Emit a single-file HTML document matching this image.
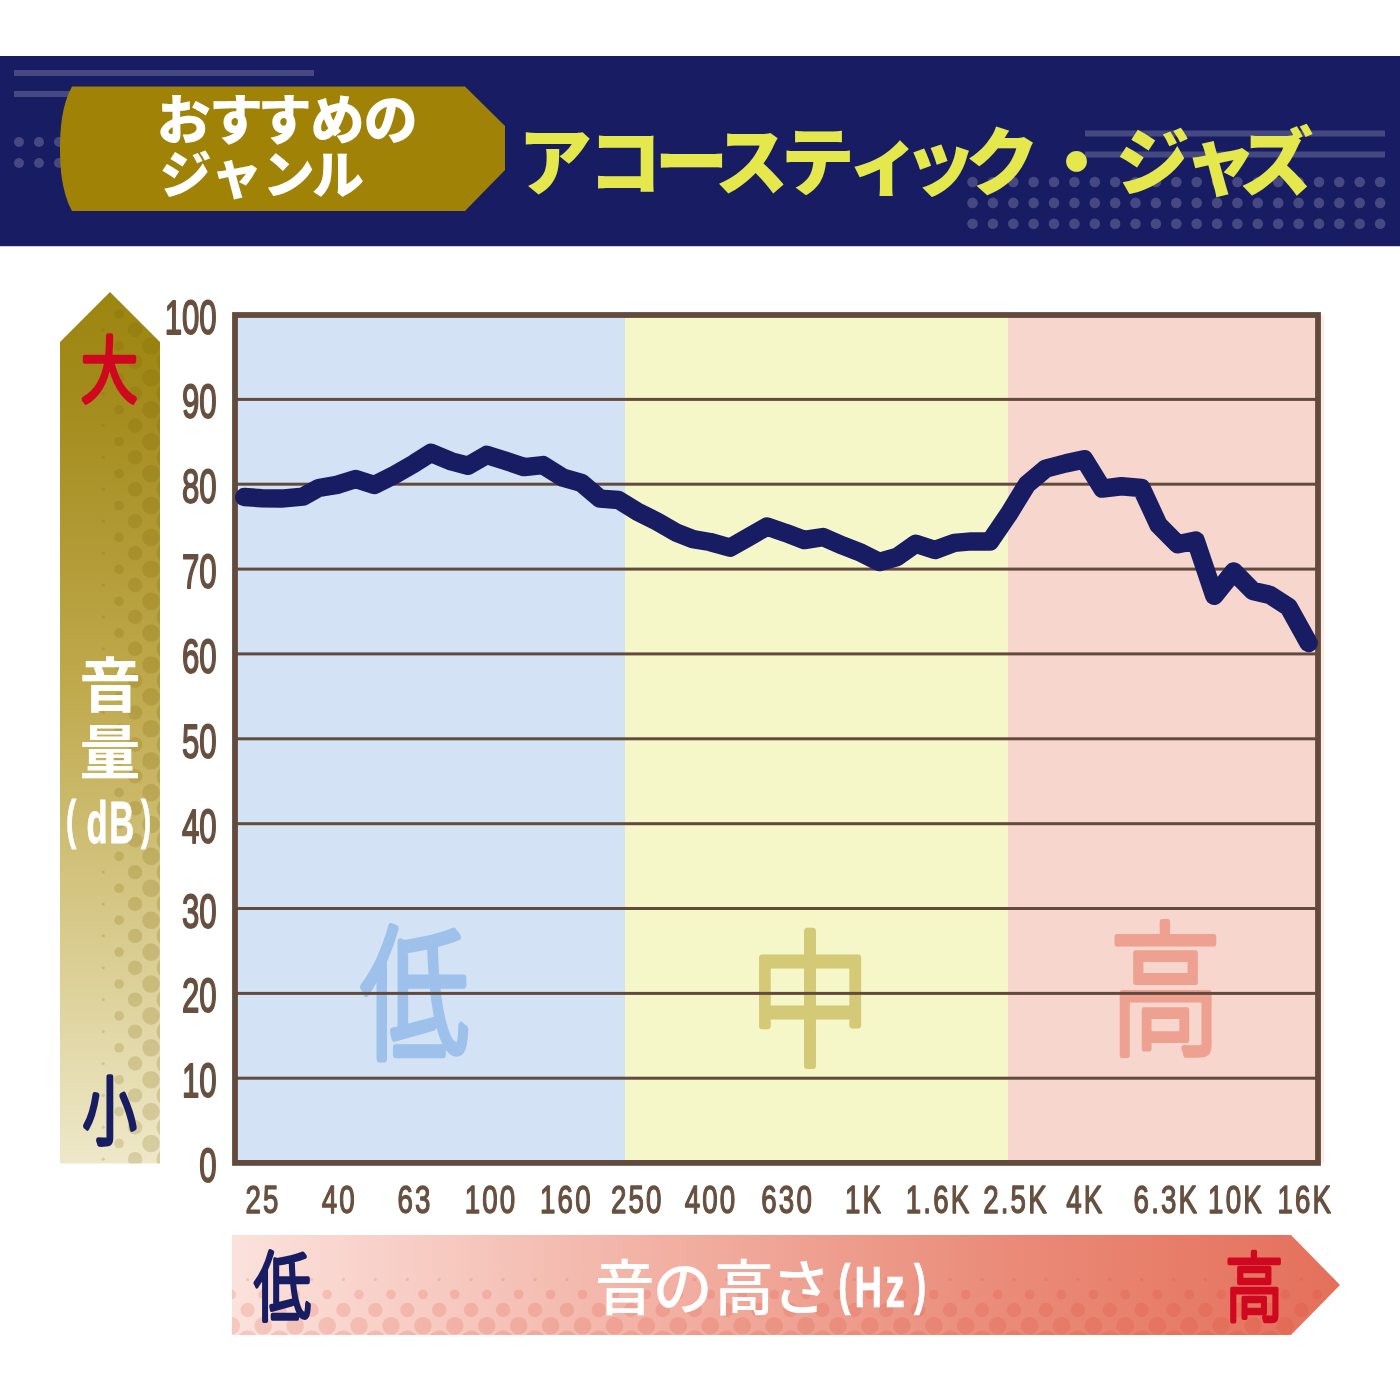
<!DOCTYPE html>
<html lang="ja"><head><meta charset="utf-8"><title>おすすめのジャンル アコースティック・ジャズ</title>
<style>
html,body{margin:0;padding:0;background:#fff;}
svg{display:block;}
text{font-family:"Liberation Sans","Noto Sans CJK JP",sans-serif;}
.jp{font-family:"Liberation Sans","Noto Sans CJK JP",sans-serif;}
</style></head><body>
<svg width="1400" height="1400" viewBox="0 0 1400 1400">
<defs>
<linearGradient id="gv" x1="0" y1="0" x2="0" y2="1">
<stop offset="0" stop-color="#9c8510"/><stop offset="0.12" stop-color="#a38b1c"/><stop offset="0.45" stop-color="#bfa94c"/><stop offset="0.75" stop-color="#d9cc8f"/><stop offset="1" stop-color="#eee8c9"/>
</linearGradient>
<linearGradient id="gh" x1="0" y1="0" x2="1" y2="0">
<stop offset="0" stop-color="#fbe2dc"/><stop offset="0.35" stop-color="#f3b5a9"/><stop offset="0.7" stop-color="#ea8b78"/><stop offset="1" stop-color="#e4705b"/>
</linearGradient>
<clipPath id="cv"><path d="M110,292 L160,342 L160,1163.5 L60,1163.5 L60,342 Z"/></clipPath>
<clipPath id="ch"><path d="M232,1235 L1291,1235 L1340,1285 L1291,1335 L232,1335 Z"/></clipPath>
</defs>
<rect width="1400" height="1400" fill="#fff"/>

<rect x="0" y="56" width="1400" height="190.2" fill="#181c62"/>
<g fill="#fff" fill-opacity="0.2">
<rect x="14" y="70" width="300" height="6"/><rect x="14" y="91" width="300" height="6"/>
<rect x="1085" y="130.5" width="300" height="6"/><rect x="1085" y="151.5" width="300" height="6"/>
<circle cx="19" cy="142" r="5"/>
<circle cx="39" cy="142" r="5"/>
<circle cx="59" cy="142" r="5"/>
<circle cx="79" cy="142" r="5"/>
<circle cx="19" cy="163" r="5"/>
<circle cx="39" cy="163" r="5"/>
<circle cx="59" cy="163" r="5"/>
<circle cx="79" cy="163" r="5"/>
<circle cx="972.5" cy="182" r="5.3"/>
<circle cx="992.9" cy="182" r="5.3"/>
<circle cx="1013.3" cy="182" r="5.3"/>
<circle cx="1033.6" cy="182" r="5.3"/>
<circle cx="1054.0" cy="182" r="5.3"/>
<circle cx="1074.4" cy="182" r="5.3"/>
<circle cx="1094.8" cy="182" r="5.3"/>
<circle cx="1115.2" cy="182" r="5.3"/>
<circle cx="1135.5" cy="182" r="5.3"/>
<circle cx="1155.9" cy="182" r="5.3"/>
<circle cx="1176.3" cy="182" r="5.3"/>
<circle cx="1196.7" cy="182" r="5.3"/>
<circle cx="1217.1" cy="182" r="5.3"/>
<circle cx="1237.4" cy="182" r="5.3"/>
<circle cx="1257.8" cy="182" r="5.3"/>
<circle cx="1278.2" cy="182" r="5.3"/>
<circle cx="1298.6" cy="182" r="5.3"/>
<circle cx="1319.0" cy="182" r="5.3"/>
<circle cx="1339.3" cy="182" r="5.3"/>
<circle cx="1359.7" cy="182" r="5.3"/>
<circle cx="1380.1" cy="182" r="5.3"/>
<circle cx="972.5" cy="202.9" r="5.3"/>
<circle cx="992.9" cy="202.9" r="5.3"/>
<circle cx="1013.3" cy="202.9" r="5.3"/>
<circle cx="1033.6" cy="202.9" r="5.3"/>
<circle cx="1054.0" cy="202.9" r="5.3"/>
<circle cx="1074.4" cy="202.9" r="5.3"/>
<circle cx="1094.8" cy="202.9" r="5.3"/>
<circle cx="1115.2" cy="202.9" r="5.3"/>
<circle cx="1135.5" cy="202.9" r="5.3"/>
<circle cx="1155.9" cy="202.9" r="5.3"/>
<circle cx="1176.3" cy="202.9" r="5.3"/>
<circle cx="1196.7" cy="202.9" r="5.3"/>
<circle cx="1217.1" cy="202.9" r="5.3"/>
<circle cx="1237.4" cy="202.9" r="5.3"/>
<circle cx="1257.8" cy="202.9" r="5.3"/>
<circle cx="1278.2" cy="202.9" r="5.3"/>
<circle cx="1298.6" cy="202.9" r="5.3"/>
<circle cx="1319.0" cy="202.9" r="5.3"/>
<circle cx="1339.3" cy="202.9" r="5.3"/>
<circle cx="1359.7" cy="202.9" r="5.3"/>
<circle cx="1380.1" cy="202.9" r="5.3"/>
<circle cx="972.5" cy="223.8" r="5.3"/>
<circle cx="992.9" cy="223.8" r="5.3"/>
<circle cx="1013.3" cy="223.8" r="5.3"/>
<circle cx="1033.6" cy="223.8" r="5.3"/>
<circle cx="1054.0" cy="223.8" r="5.3"/>
<circle cx="1074.4" cy="223.8" r="5.3"/>
<circle cx="1094.8" cy="223.8" r="5.3"/>
<circle cx="1115.2" cy="223.8" r="5.3"/>
<circle cx="1135.5" cy="223.8" r="5.3"/>
<circle cx="1155.9" cy="223.8" r="5.3"/>
<circle cx="1176.3" cy="223.8" r="5.3"/>
<circle cx="1196.7" cy="223.8" r="5.3"/>
<circle cx="1217.1" cy="223.8" r="5.3"/>
<circle cx="1237.4" cy="223.8" r="5.3"/>
<circle cx="1257.8" cy="223.8" r="5.3"/>
<circle cx="1278.2" cy="223.8" r="5.3"/>
<circle cx="1298.6" cy="223.8" r="5.3"/>
<circle cx="1319.0" cy="223.8" r="5.3"/>
<circle cx="1339.3" cy="223.8" r="5.3"/>
<circle cx="1359.7" cy="223.8" r="5.3"/>
<circle cx="1380.1" cy="223.8" r="5.3"/>
</g>
<path d="M72,86.5 L465,86.5 L505,126 L505,170 L465,211 L72,211 C61.5,192 60,167 60,148.7 C60,130 61.5,105 72,86.5 Z" fill="#a08306"/>
<text class="jp" x="156.8 208.9 257.7 310.5 363.8" y="140.3" font-size="54" font-weight="900" fill="#fff">おすすめの</text>
<text class="jp" x="159.4 210.8 262.8 312" y="193.7" font-size="52" font-weight="900" fill="#fff">ジャンル</text>
<text class="jp" x="518.1 587.9 654.6 714.6 780.8 847.3 902.9 965.3 1039.4 1115.8 1183.6 1239.5" y="189" font-size="74" font-weight="900" fill="#e4e84c">アコースティック・ジャズ</text>
<path d="M110,292 L160,342 L160,1163.5 L60,1163.5 L60,342 Z" fill="url(#gv)"/>
<g clip-path="url(#cv)" fill="#7a6200" fill-opacity="0.19">
<circle cx="103.2" cy="234.1" r="1.6"/>
<circle cx="103.2" cy="266.0" r="1.6"/>
<circle cx="103.2" cy="297.9" r="1.6"/>
<circle cx="103.2" cy="329.8" r="1.6"/>
<circle cx="103.2" cy="361.7" r="1.6"/>
<circle cx="103.2" cy="393.6" r="1.6"/>
<circle cx="103.2" cy="425.5" r="1.6"/>
<circle cx="103.2" cy="457.4" r="1.6"/>
<circle cx="103.2" cy="489.3" r="1.6"/>
<circle cx="103.2" cy="521.2" r="1.6"/>
<circle cx="103.2" cy="553.1" r="1.6"/>
<circle cx="103.2" cy="585.0" r="1.6"/>
<circle cx="103.2" cy="616.9" r="1.6"/>
<circle cx="103.2" cy="648.8" r="1.6"/>
<circle cx="103.2" cy="680.7" r="1.6"/>
<circle cx="103.2" cy="712.6" r="1.6"/>
<circle cx="103.2" cy="744.5" r="1.6"/>
<circle cx="103.2" cy="776.4" r="1.6"/>
<circle cx="103.2" cy="808.3" r="1.6"/>
<circle cx="103.2" cy="840.2" r="1.6"/>
<circle cx="103.2" cy="872.1" r="1.6"/>
<circle cx="103.2" cy="904.0" r="1.6"/>
<circle cx="103.2" cy="935.9" r="1.6"/>
<circle cx="103.2" cy="967.8" r="1.6"/>
<circle cx="103.2" cy="999.7" r="1.6"/>
<circle cx="103.2" cy="1031.6" r="1.6"/>
<circle cx="103.2" cy="1063.5" r="1.6"/>
<circle cx="103.2" cy="1095.4" r="1.6"/>
<circle cx="103.2" cy="1127.3" r="1.6"/>
<circle cx="103.2" cy="1159.2" r="1.6"/>
<circle cx="119.1" cy="250.3" r="4.8"/>
<circle cx="119.1" cy="282.2" r="4.8"/>
<circle cx="119.1" cy="314.1" r="4.8"/>
<circle cx="119.1" cy="346.0" r="4.8"/>
<circle cx="119.1" cy="377.9" r="4.8"/>
<circle cx="119.1" cy="409.8" r="4.8"/>
<circle cx="119.1" cy="441.7" r="4.8"/>
<circle cx="119.1" cy="473.6" r="4.8"/>
<circle cx="119.1" cy="505.5" r="4.8"/>
<circle cx="119.1" cy="537.4" r="4.8"/>
<circle cx="119.1" cy="569.3" r="4.8"/>
<circle cx="119.1" cy="601.2" r="4.8"/>
<circle cx="119.1" cy="633.1" r="4.8"/>
<circle cx="119.1" cy="665.0" r="4.8"/>
<circle cx="119.1" cy="696.9" r="4.8"/>
<circle cx="119.1" cy="728.8" r="4.8"/>
<circle cx="119.1" cy="760.7" r="4.8"/>
<circle cx="119.1" cy="792.6" r="4.8"/>
<circle cx="119.1" cy="824.5" r="4.8"/>
<circle cx="119.1" cy="856.4" r="4.8"/>
<circle cx="119.1" cy="888.3" r="4.8"/>
<circle cx="119.1" cy="920.2" r="4.8"/>
<circle cx="119.1" cy="952.1" r="4.8"/>
<circle cx="119.1" cy="984.0" r="4.8"/>
<circle cx="119.1" cy="1015.9" r="4.8"/>
<circle cx="119.1" cy="1047.8" r="4.8"/>
<circle cx="119.1" cy="1079.7" r="4.8"/>
<circle cx="119.1" cy="1111.6" r="4.8"/>
<circle cx="119.1" cy="1143.5" r="4.8"/>
<circle cx="119.1" cy="1175.4" r="4.8"/>
<circle cx="135.1" cy="234.1" r="7.2"/>
<circle cx="135.1" cy="266.0" r="7.2"/>
<circle cx="135.1" cy="297.9" r="7.2"/>
<circle cx="135.1" cy="329.8" r="7.2"/>
<circle cx="135.1" cy="361.7" r="7.2"/>
<circle cx="135.1" cy="393.6" r="7.2"/>
<circle cx="135.1" cy="425.5" r="7.2"/>
<circle cx="135.1" cy="457.4" r="7.2"/>
<circle cx="135.1" cy="489.3" r="7.2"/>
<circle cx="135.1" cy="521.2" r="7.2"/>
<circle cx="135.1" cy="553.1" r="7.2"/>
<circle cx="135.1" cy="585.0" r="7.2"/>
<circle cx="135.1" cy="616.9" r="7.2"/>
<circle cx="135.1" cy="648.8" r="7.2"/>
<circle cx="135.1" cy="680.7" r="7.2"/>
<circle cx="135.1" cy="712.6" r="7.2"/>
<circle cx="135.1" cy="744.5" r="7.2"/>
<circle cx="135.1" cy="776.4" r="7.2"/>
<circle cx="135.1" cy="808.3" r="7.2"/>
<circle cx="135.1" cy="840.2" r="7.2"/>
<circle cx="135.1" cy="872.1" r="7.2"/>
<circle cx="135.1" cy="904.0" r="7.2"/>
<circle cx="135.1" cy="935.9" r="7.2"/>
<circle cx="135.1" cy="967.8" r="7.2"/>
<circle cx="135.1" cy="999.7" r="7.2"/>
<circle cx="135.1" cy="1031.6" r="7.2"/>
<circle cx="135.1" cy="1063.5" r="7.2"/>
<circle cx="135.1" cy="1095.4" r="7.2"/>
<circle cx="135.1" cy="1127.3" r="7.2"/>
<circle cx="135.1" cy="1159.2" r="7.2"/>
<circle cx="151" cy="250.3" r="8.8"/>
<circle cx="151" cy="282.2" r="8.8"/>
<circle cx="151" cy="314.1" r="8.8"/>
<circle cx="151" cy="346.0" r="8.8"/>
<circle cx="151" cy="377.9" r="8.8"/>
<circle cx="151" cy="409.8" r="8.8"/>
<circle cx="151" cy="441.7" r="8.8"/>
<circle cx="151" cy="473.6" r="8.8"/>
<circle cx="151" cy="505.5" r="8.8"/>
<circle cx="151" cy="537.4" r="8.8"/>
<circle cx="151" cy="569.3" r="8.8"/>
<circle cx="151" cy="601.2" r="8.8"/>
<circle cx="151" cy="633.1" r="8.8"/>
<circle cx="151" cy="665.0" r="8.8"/>
<circle cx="151" cy="696.9" r="8.8"/>
<circle cx="151" cy="728.8" r="8.8"/>
<circle cx="151" cy="760.7" r="8.8"/>
<circle cx="151" cy="792.6" r="8.8"/>
<circle cx="151" cy="824.5" r="8.8"/>
<circle cx="151" cy="856.4" r="8.8"/>
<circle cx="151" cy="888.3" r="8.8"/>
<circle cx="151" cy="920.2" r="8.8"/>
<circle cx="151" cy="952.1" r="8.8"/>
<circle cx="151" cy="984.0" r="8.8"/>
<circle cx="151" cy="1015.9" r="8.8"/>
<circle cx="151" cy="1047.8" r="8.8"/>
<circle cx="151" cy="1079.7" r="8.8"/>
<circle cx="151" cy="1111.6" r="8.8"/>
<circle cx="151" cy="1143.5" r="8.8"/>
<circle cx="151" cy="1175.4" r="8.8"/>
<circle cx="167" cy="234.1" r="10.5"/>
<circle cx="167" cy="266.0" r="10.5"/>
<circle cx="167" cy="297.9" r="10.5"/>
<circle cx="167" cy="329.8" r="10.5"/>
<circle cx="167" cy="361.7" r="10.5"/>
<circle cx="167" cy="393.6" r="10.5"/>
<circle cx="167" cy="425.5" r="10.5"/>
<circle cx="167" cy="457.4" r="10.5"/>
<circle cx="167" cy="489.3" r="10.5"/>
<circle cx="167" cy="521.2" r="10.5"/>
<circle cx="167" cy="553.1" r="10.5"/>
<circle cx="167" cy="585.0" r="10.5"/>
<circle cx="167" cy="616.9" r="10.5"/>
<circle cx="167" cy="648.8" r="10.5"/>
<circle cx="167" cy="680.7" r="10.5"/>
<circle cx="167" cy="712.6" r="10.5"/>
<circle cx="167" cy="744.5" r="10.5"/>
<circle cx="167" cy="776.4" r="10.5"/>
<circle cx="167" cy="808.3" r="10.5"/>
<circle cx="167" cy="840.2" r="10.5"/>
<circle cx="167" cy="872.1" r="10.5"/>
<circle cx="167" cy="904.0" r="10.5"/>
<circle cx="167" cy="935.9" r="10.5"/>
<circle cx="167" cy="967.8" r="10.5"/>
<circle cx="167" cy="999.7" r="10.5"/>
<circle cx="167" cy="1031.6" r="10.5"/>
<circle cx="167" cy="1063.5" r="10.5"/>
<circle cx="167" cy="1095.4" r="10.5"/>
<circle cx="167" cy="1127.3" r="10.5"/>
<circle cx="167" cy="1159.2" r="10.5"/>
</g>
<text class="jp" font-size="100" font-weight="300" fill="#d0081f" stroke="#d0081f" stroke-width="5" stroke-linejoin="round" stroke-linecap="round" vector-effect="non-scaling-stroke" transform="matrix(0.5626 0 0 0.7217 81.27 395.83)">大</text>
<text class="jp" font-size="100" font-weight="700" fill="#fff" transform="matrix(0.6187 0 0 0.5916 79.32 707.38)">音</text>
<text class="jp" font-size="100" font-weight="700" fill="#fff" transform="matrix(0.6087 0 0 0.5888 79.57 774.08)">量</text>
<text x="0.0 59.1 125.3 217.0" y="0" font-size="100" font-weight="700" fill="#fff" stroke="#fff" stroke-width="1.3" vector-effect="non-scaling-stroke" transform="matrix(0.345 0 0 0.594 66.12 843.4)"><tspan font-size="89" y="-8.8">(</tspan><tspan y="0">dB</tspan><tspan font-size="89" y="-8.8">)</tspan></text>
<text class="jp" font-size="100" font-weight="300" fill="#181c62" stroke="#181c62" stroke-width="5" stroke-linejoin="round" stroke-linecap="round" vector-effect="non-scaling-stroke" transform="matrix(0.5326 0 0 0.7403 83.04 1137.88)">小</text>
<rect x="235" y="315" width="391" height="848" fill="#d3e3f5"/>
<rect x="625" y="315" width="383" height="848" fill="#f6f7c9"/>
<rect x="1008" y="315" width="310" height="848" fill="#f7d6cd"/><rect x="1318" y="315" width="6" height="848" fill="#fdebe6"/>
<text class="jp" font-size="100" font-weight="300" fill="#9dc1ea" stroke="#9dc1ea" stroke-width="6.5" stroke-linejoin="round" stroke-linecap="round" vector-effect="non-scaling-stroke" transform="matrix(1.0781 0 0 1.4560 360.63 1047.83)">低</text>
<text class="jp" font-size="100" font-weight="300" fill="#d3c976" stroke="#d3c976" stroke-width="6.5" stroke-linejoin="round" stroke-linecap="round" vector-effect="non-scaling-stroke" transform="matrix(1.2126 0 0 1.4656 749.72 1054.36)">中</text>
<text class="jp" font-size="100" font-weight="300" fill="#efa191" stroke="#efa191" stroke-width="5.5" stroke-linejoin="round" stroke-linecap="round" vector-effect="non-scaling-stroke" transform="matrix(1.1230 0 0 1.4489 1109.25 1044.46)">高</text>
<rect x="235" y="1076.7" width="1083" height="3" fill="#624a3d"/>
<rect x="235" y="991.9" width="1083" height="3" fill="#624a3d"/>
<rect x="235" y="907.0" width="1083" height="3" fill="#624a3d"/>
<rect x="235" y="822.2" width="1083" height="3" fill="#624a3d"/>
<rect x="235" y="737.3" width="1083" height="3" fill="#624a3d"/>
<rect x="235" y="652.4" width="1083" height="3" fill="#624a3d"/>
<rect x="235" y="567.6" width="1083" height="3" fill="#624a3d"/>
<rect x="235" y="482.7" width="1083" height="3" fill="#624a3d"/>
<rect x="235" y="397.9" width="1083" height="3" fill="#624a3d"/>
<rect x="235" y="315" width="1083" height="847.9" fill="none" stroke="#624a3d" stroke-width="5.8"/>
<path d="M244.3,497.1 L262,498.2 L281.4,498.6 L302.9,496.6 L318.6,488 L337,484.9 L355.7,479 L374.3,485 L394.3,474.9 L414.3,463.4 L430.9,452.9 L451.4,461.4 L468,465.7 L486.6,454.9 L505.7,460.9 L524.3,467.1 L542.9,465.1 L562.9,477.7 L581.4,482.9 L600,498.6 L618.6,500 L637,511.4 L657,521.4 L675.7,532.3 L692.9,539.1 L710,542 L730,547.7 L748.6,537.1 L767,526.6 L785.7,532.9 L804.3,540 L822.9,537.1 L842.9,545.7 L861.4,552.9 L879.4,562 L897,557 L915.7,543.7 L935,550 L954.3,542.9 L971.4,541.4 L990,541.4 L1008.6,514.3 L1027,484.3 L1045.7,468.6 L1065.7,463.4 L1084.3,459.4 L1102.3,488.6 L1121.4,486.3 L1141.4,488 L1158.6,525.1 L1177.7,544.3 L1195.7,540.6 L1214.3,595.7 L1233.7,571.4 L1252.9,590.9 L1270,594.9 L1288.6,607.1 L1308.6,642.9" fill="none" stroke="#181c62" stroke-width="18.5" stroke-linejoin="round" stroke-linecap="round"/>
<text font-size="48" fill="#67503f" stroke="#67503f" stroke-width="1.5" vector-effect="non-scaling-stroke" stroke-linejoin="round" text-anchor="end" transform="translate(216.7 1182.1) scale(0.65 1)">0</text>
<text font-size="48" fill="#67503f" stroke="#67503f" stroke-width="1.5" vector-effect="non-scaling-stroke" stroke-linejoin="round" text-anchor="end" transform="translate(216.7 1097.2) scale(0.65 1)">10</text>
<text font-size="48" fill="#67503f" stroke="#67503f" stroke-width="1.5" vector-effect="non-scaling-stroke" stroke-linejoin="round" text-anchor="end" transform="translate(216.7 1012.4) scale(0.65 1)">20</text>
<text font-size="48" fill="#67503f" stroke="#67503f" stroke-width="1.5" vector-effect="non-scaling-stroke" stroke-linejoin="round" text-anchor="end" transform="translate(216.7 927.5) scale(0.65 1)">30</text>
<text font-size="48" fill="#67503f" stroke="#67503f" stroke-width="1.5" vector-effect="non-scaling-stroke" stroke-linejoin="round" text-anchor="end" transform="translate(216.7 842.7) scale(0.65 1)">40</text>
<text font-size="48" fill="#67503f" stroke="#67503f" stroke-width="1.5" vector-effect="non-scaling-stroke" stroke-linejoin="round" text-anchor="end" transform="translate(216.7 757.8) scale(0.65 1)">50</text>
<text font-size="48" fill="#67503f" stroke="#67503f" stroke-width="1.5" vector-effect="non-scaling-stroke" stroke-linejoin="round" text-anchor="end" transform="translate(216.7 672.9) scale(0.65 1)">60</text>
<text font-size="48" fill="#67503f" stroke="#67503f" stroke-width="1.5" vector-effect="non-scaling-stroke" stroke-linejoin="round" text-anchor="end" transform="translate(216.7 588.1) scale(0.65 1)">70</text>
<text font-size="48" fill="#67503f" stroke="#67503f" stroke-width="1.5" vector-effect="non-scaling-stroke" stroke-linejoin="round" text-anchor="end" transform="translate(216.7 503.2) scale(0.65 1)">80</text>
<text font-size="48" fill="#67503f" stroke="#67503f" stroke-width="1.5" vector-effect="non-scaling-stroke" stroke-linejoin="round" text-anchor="end" transform="translate(216.7 418.4) scale(0.65 1)">90</text>
<text font-size="48" fill="#67503f" stroke="#67503f" stroke-width="1.5" vector-effect="non-scaling-stroke" stroke-linejoin="round" text-anchor="end" transform="translate(216.7 333.6) scale(0.65 1)">100</text>
<text font-size="38.5" fill="#67503f" stroke="#67503f" stroke-width="1.2" vector-effect="non-scaling-stroke" stroke-linejoin="round" text-anchor="middle" letter-spacing="3" transform="translate(263 1212.8) scale(0.72 1)">25</text>
<text font-size="38.5" fill="#67503f" stroke="#67503f" stroke-width="1.2" vector-effect="non-scaling-stroke" stroke-linejoin="round" text-anchor="middle" letter-spacing="3" transform="translate(339.3 1212.8) scale(0.72 1)">40</text>
<text font-size="38.5" fill="#67503f" stroke="#67503f" stroke-width="1.2" vector-effect="non-scaling-stroke" stroke-linejoin="round" text-anchor="middle" letter-spacing="3" transform="translate(415 1212.8) scale(0.72 1)">63</text>
<text font-size="38.5" fill="#67503f" stroke="#67503f" stroke-width="1.2" vector-effect="non-scaling-stroke" stroke-linejoin="round" text-anchor="middle" letter-spacing="3" transform="translate(491 1212.8) scale(0.72 1)">100</text>
<text font-size="38.5" fill="#67503f" stroke="#67503f" stroke-width="1.2" vector-effect="non-scaling-stroke" stroke-linejoin="round" text-anchor="middle" letter-spacing="3" transform="translate(566.4 1212.8) scale(0.72 1)">160</text>
<text font-size="38.5" fill="#67503f" stroke="#67503f" stroke-width="1.2" vector-effect="non-scaling-stroke" stroke-linejoin="round" text-anchor="middle" letter-spacing="3" transform="translate(637.3 1212.8) scale(0.72 1)">250</text>
<text font-size="38.5" fill="#67503f" stroke="#67503f" stroke-width="1.2" vector-effect="non-scaling-stroke" stroke-linejoin="round" text-anchor="middle" letter-spacing="3" transform="translate(711 1212.8) scale(0.72 1)">400</text>
<text font-size="38.5" fill="#67503f" stroke="#67503f" stroke-width="1.2" vector-effect="non-scaling-stroke" stroke-linejoin="round" text-anchor="middle" letter-spacing="3" transform="translate(787.6 1212.8) scale(0.72 1)">630</text>
<text font-size="38.5" fill="#67503f" stroke="#67503f" stroke-width="1.2" vector-effect="non-scaling-stroke" stroke-linejoin="round" text-anchor="middle" letter-spacing="3" transform="translate(864 1212.8) scale(0.72 1)">1K</text>
<text font-size="38.5" fill="#67503f" stroke="#67503f" stroke-width="1.2" vector-effect="non-scaling-stroke" stroke-linejoin="round" text-anchor="middle" letter-spacing="3" transform="translate(938.6 1212.8) scale(0.72 1)">1.6K</text>
<text font-size="38.5" fill="#67503f" stroke="#67503f" stroke-width="1.2" vector-effect="non-scaling-stroke" stroke-linejoin="round" text-anchor="middle" letter-spacing="3" transform="translate(1016 1212.8) scale(0.72 1)">2.5K</text>
<text font-size="38.5" fill="#67503f" stroke="#67503f" stroke-width="1.2" vector-effect="non-scaling-stroke" stroke-linejoin="round" text-anchor="middle" letter-spacing="3" transform="translate(1085.3 1212.8) scale(0.72 1)">4K</text>
<text font-size="38.5" fill="#67503f" stroke="#67503f" stroke-width="1.2" vector-effect="non-scaling-stroke" stroke-linejoin="round" text-anchor="middle" letter-spacing="3" transform="translate(1166.4 1212.8) scale(0.72 1)">6.3K</text>
<text font-size="38.5" fill="#67503f" stroke="#67503f" stroke-width="1.2" vector-effect="non-scaling-stroke" stroke-linejoin="round" text-anchor="middle" letter-spacing="3" transform="translate(1236 1212.8) scale(0.72 1)">10K</text>
<text font-size="38.5" fill="#67503f" stroke="#67503f" stroke-width="1.2" vector-effect="non-scaling-stroke" stroke-linejoin="round" text-anchor="middle" letter-spacing="3" transform="translate(1305.3 1212.8) scale(0.72 1)">16K</text>
<path d="M232,1235 L1291,1235 L1340,1285 L1291,1335 L232,1335 Z" fill="url(#gh)"/>
<g clip-path="url(#ch)" fill="#d8412c" fill-opacity="0.16">
<circle cx="215.7" cy="1279.4" r="1.6"/>
<circle cx="247.6" cy="1279.4" r="1.6"/>
<circle cx="279.5" cy="1279.4" r="1.6"/>
<circle cx="311.5" cy="1279.4" r="1.6"/>
<circle cx="343.4" cy="1279.4" r="1.6"/>
<circle cx="375.3" cy="1279.4" r="1.6"/>
<circle cx="407.3" cy="1279.4" r="1.6"/>
<circle cx="439.2" cy="1279.4" r="1.6"/>
<circle cx="471.1" cy="1279.4" r="1.6"/>
<circle cx="503.1" cy="1279.4" r="1.6"/>
<circle cx="535.0" cy="1279.4" r="1.6"/>
<circle cx="566.9" cy="1279.4" r="1.6"/>
<circle cx="598.8" cy="1279.4" r="1.6"/>
<circle cx="630.8" cy="1279.4" r="1.6"/>
<circle cx="662.7" cy="1279.4" r="1.6"/>
<circle cx="694.6" cy="1279.4" r="1.6"/>
<circle cx="726.6" cy="1279.4" r="1.6"/>
<circle cx="758.5" cy="1279.4" r="1.6"/>
<circle cx="790.4" cy="1279.4" r="1.6"/>
<circle cx="822.3" cy="1279.4" r="1.6"/>
<circle cx="854.3" cy="1279.4" r="1.6"/>
<circle cx="886.2" cy="1279.4" r="1.6"/>
<circle cx="918.1" cy="1279.4" r="1.6"/>
<circle cx="950.1" cy="1279.4" r="1.6"/>
<circle cx="982.0" cy="1279.4" r="1.6"/>
<circle cx="1013.9" cy="1279.4" r="1.6"/>
<circle cx="1045.9" cy="1279.4" r="1.6"/>
<circle cx="1077.8" cy="1279.4" r="1.6"/>
<circle cx="1109.7" cy="1279.4" r="1.6"/>
<circle cx="1141.6" cy="1279.4" r="1.6"/>
<circle cx="1173.6" cy="1279.4" r="1.6"/>
<circle cx="1205.5" cy="1279.4" r="1.6"/>
<circle cx="1237.4" cy="1279.4" r="1.6"/>
<circle cx="1269.4" cy="1279.4" r="1.6"/>
<circle cx="1301.3" cy="1279.4" r="1.6"/>
<circle cx="1333.2" cy="1279.4" r="1.6"/>
<circle cx="199.4" cy="1294.5" r="4.8"/>
<circle cx="231.3" cy="1294.5" r="4.8"/>
<circle cx="263.2" cy="1294.5" r="4.8"/>
<circle cx="295.2" cy="1294.5" r="4.8"/>
<circle cx="327.1" cy="1294.5" r="4.8"/>
<circle cx="359.0" cy="1294.5" r="4.8"/>
<circle cx="391.0" cy="1294.5" r="4.8"/>
<circle cx="422.9" cy="1294.5" r="4.8"/>
<circle cx="454.8" cy="1294.5" r="4.8"/>
<circle cx="486.8" cy="1294.5" r="4.8"/>
<circle cx="518.7" cy="1294.5" r="4.8"/>
<circle cx="550.6" cy="1294.5" r="4.8"/>
<circle cx="582.5" cy="1294.5" r="4.8"/>
<circle cx="614.5" cy="1294.5" r="4.8"/>
<circle cx="646.4" cy="1294.5" r="4.8"/>
<circle cx="678.3" cy="1294.5" r="4.8"/>
<circle cx="710.3" cy="1294.5" r="4.8"/>
<circle cx="742.2" cy="1294.5" r="4.8"/>
<circle cx="774.1" cy="1294.5" r="4.8"/>
<circle cx="806.0" cy="1294.5" r="4.8"/>
<circle cx="838.0" cy="1294.5" r="4.8"/>
<circle cx="869.9" cy="1294.5" r="4.8"/>
<circle cx="901.8" cy="1294.5" r="4.8"/>
<circle cx="933.8" cy="1294.5" r="4.8"/>
<circle cx="965.7" cy="1294.5" r="4.8"/>
<circle cx="997.6" cy="1294.5" r="4.8"/>
<circle cx="1029.6" cy="1294.5" r="4.8"/>
<circle cx="1061.5" cy="1294.5" r="4.8"/>
<circle cx="1093.4" cy="1294.5" r="4.8"/>
<circle cx="1125.3" cy="1294.5" r="4.8"/>
<circle cx="1157.3" cy="1294.5" r="4.8"/>
<circle cx="1189.2" cy="1294.5" r="4.8"/>
<circle cx="1221.1" cy="1294.5" r="4.8"/>
<circle cx="1253.1" cy="1294.5" r="4.8"/>
<circle cx="1285.0" cy="1294.5" r="4.8"/>
<circle cx="1316.9" cy="1294.5" r="4.8"/>
<circle cx="1348.9" cy="1294.5" r="4.8"/>
<circle cx="215.7" cy="1310" r="7.2"/>
<circle cx="247.6" cy="1310" r="7.2"/>
<circle cx="279.5" cy="1310" r="7.2"/>
<circle cx="311.5" cy="1310" r="7.2"/>
<circle cx="343.4" cy="1310" r="7.2"/>
<circle cx="375.3" cy="1310" r="7.2"/>
<circle cx="407.3" cy="1310" r="7.2"/>
<circle cx="439.2" cy="1310" r="7.2"/>
<circle cx="471.1" cy="1310" r="7.2"/>
<circle cx="503.1" cy="1310" r="7.2"/>
<circle cx="535.0" cy="1310" r="7.2"/>
<circle cx="566.9" cy="1310" r="7.2"/>
<circle cx="598.8" cy="1310" r="7.2"/>
<circle cx="630.8" cy="1310" r="7.2"/>
<circle cx="662.7" cy="1310" r="7.2"/>
<circle cx="694.6" cy="1310" r="7.2"/>
<circle cx="726.6" cy="1310" r="7.2"/>
<circle cx="758.5" cy="1310" r="7.2"/>
<circle cx="790.4" cy="1310" r="7.2"/>
<circle cx="822.3" cy="1310" r="7.2"/>
<circle cx="854.3" cy="1310" r="7.2"/>
<circle cx="886.2" cy="1310" r="7.2"/>
<circle cx="918.1" cy="1310" r="7.2"/>
<circle cx="950.1" cy="1310" r="7.2"/>
<circle cx="982.0" cy="1310" r="7.2"/>
<circle cx="1013.9" cy="1310" r="7.2"/>
<circle cx="1045.9" cy="1310" r="7.2"/>
<circle cx="1077.8" cy="1310" r="7.2"/>
<circle cx="1109.7" cy="1310" r="7.2"/>
<circle cx="1141.6" cy="1310" r="7.2"/>
<circle cx="1173.6" cy="1310" r="7.2"/>
<circle cx="1205.5" cy="1310" r="7.2"/>
<circle cx="1237.4" cy="1310" r="7.2"/>
<circle cx="1269.4" cy="1310" r="7.2"/>
<circle cx="1301.3" cy="1310" r="7.2"/>
<circle cx="1333.2" cy="1310" r="7.2"/>
<circle cx="199.4" cy="1325.7" r="8.8"/>
<circle cx="231.3" cy="1325.7" r="8.8"/>
<circle cx="263.2" cy="1325.7" r="8.8"/>
<circle cx="295.2" cy="1325.7" r="8.8"/>
<circle cx="327.1" cy="1325.7" r="8.8"/>
<circle cx="359.0" cy="1325.7" r="8.8"/>
<circle cx="391.0" cy="1325.7" r="8.8"/>
<circle cx="422.9" cy="1325.7" r="8.8"/>
<circle cx="454.8" cy="1325.7" r="8.8"/>
<circle cx="486.8" cy="1325.7" r="8.8"/>
<circle cx="518.7" cy="1325.7" r="8.8"/>
<circle cx="550.6" cy="1325.7" r="8.8"/>
<circle cx="582.5" cy="1325.7" r="8.8"/>
<circle cx="614.5" cy="1325.7" r="8.8"/>
<circle cx="646.4" cy="1325.7" r="8.8"/>
<circle cx="678.3" cy="1325.7" r="8.8"/>
<circle cx="710.3" cy="1325.7" r="8.8"/>
<circle cx="742.2" cy="1325.7" r="8.8"/>
<circle cx="774.1" cy="1325.7" r="8.8"/>
<circle cx="806.0" cy="1325.7" r="8.8"/>
<circle cx="838.0" cy="1325.7" r="8.8"/>
<circle cx="869.9" cy="1325.7" r="8.8"/>
<circle cx="901.8" cy="1325.7" r="8.8"/>
<circle cx="933.8" cy="1325.7" r="8.8"/>
<circle cx="965.7" cy="1325.7" r="8.8"/>
<circle cx="997.6" cy="1325.7" r="8.8"/>
<circle cx="1029.6" cy="1325.7" r="8.8"/>
<circle cx="1061.5" cy="1325.7" r="8.8"/>
<circle cx="1093.4" cy="1325.7" r="8.8"/>
<circle cx="1125.3" cy="1325.7" r="8.8"/>
<circle cx="1157.3" cy="1325.7" r="8.8"/>
<circle cx="1189.2" cy="1325.7" r="8.8"/>
<circle cx="1221.1" cy="1325.7" r="8.8"/>
<circle cx="1253.1" cy="1325.7" r="8.8"/>
<circle cx="1285.0" cy="1325.7" r="8.8"/>
<circle cx="1316.9" cy="1325.7" r="8.8"/>
<circle cx="1348.9" cy="1325.7" r="8.8"/>
<circle cx="215.7" cy="1341" r="10.5"/>
<circle cx="247.6" cy="1341" r="10.5"/>
<circle cx="279.5" cy="1341" r="10.5"/>
<circle cx="311.5" cy="1341" r="10.5"/>
<circle cx="343.4" cy="1341" r="10.5"/>
<circle cx="375.3" cy="1341" r="10.5"/>
<circle cx="407.3" cy="1341" r="10.5"/>
<circle cx="439.2" cy="1341" r="10.5"/>
<circle cx="471.1" cy="1341" r="10.5"/>
<circle cx="503.1" cy="1341" r="10.5"/>
<circle cx="535.0" cy="1341" r="10.5"/>
<circle cx="566.9" cy="1341" r="10.5"/>
<circle cx="598.8" cy="1341" r="10.5"/>
<circle cx="630.8" cy="1341" r="10.5"/>
<circle cx="662.7" cy="1341" r="10.5"/>
<circle cx="694.6" cy="1341" r="10.5"/>
<circle cx="726.6" cy="1341" r="10.5"/>
<circle cx="758.5" cy="1341" r="10.5"/>
<circle cx="790.4" cy="1341" r="10.5"/>
<circle cx="822.3" cy="1341" r="10.5"/>
<circle cx="854.3" cy="1341" r="10.5"/>
<circle cx="886.2" cy="1341" r="10.5"/>
<circle cx="918.1" cy="1341" r="10.5"/>
<circle cx="950.1" cy="1341" r="10.5"/>
<circle cx="982.0" cy="1341" r="10.5"/>
<circle cx="1013.9" cy="1341" r="10.5"/>
<circle cx="1045.9" cy="1341" r="10.5"/>
<circle cx="1077.8" cy="1341" r="10.5"/>
<circle cx="1109.7" cy="1341" r="10.5"/>
<circle cx="1141.6" cy="1341" r="10.5"/>
<circle cx="1173.6" cy="1341" r="10.5"/>
<circle cx="1205.5" cy="1341" r="10.5"/>
<circle cx="1237.4" cy="1341" r="10.5"/>
<circle cx="1269.4" cy="1341" r="10.5"/>
<circle cx="1301.3" cy="1341" r="10.5"/>
<circle cx="1333.2" cy="1341" r="10.5"/>
</g>
<text class="jp" font-size="100" font-weight="300" fill="#181c62" stroke="#181c62" stroke-width="4" stroke-linejoin="round" stroke-linecap="round" vector-effect="non-scaling-stroke" transform="matrix(0.5677 0 0 0.7571 254.05 1315.22)">低</text>
<text class="jp" x="594.7 652.8 714.1 771" y="1310" font-size="60" font-weight="500" fill="#fff">音の高さ</text>
<text x="0.0 42.2 123.0 197.5" y="0" font-size="100" font-weight="700" fill="#fff" stroke="#fff" stroke-width="1.3" vector-effect="non-scaling-stroke" transform="matrix(0.383 0 0 0.571 838.35 1307)"><tspan font-size="95.7" y="-7.4">(</tspan><tspan y="0">Hz</tspan><tspan font-size="95.7" y="-7.4">)</tspan></text>
<text class="jp" font-size="100" font-weight="300" fill="#d0081f" stroke="#d0081f" stroke-width="4" stroke-linejoin="round" stroke-linecap="round" vector-effect="non-scaling-stroke" transform="matrix(0.5793 0 0 0.7489 1225.23 1314.91)">高</text>
</svg></body></html>
